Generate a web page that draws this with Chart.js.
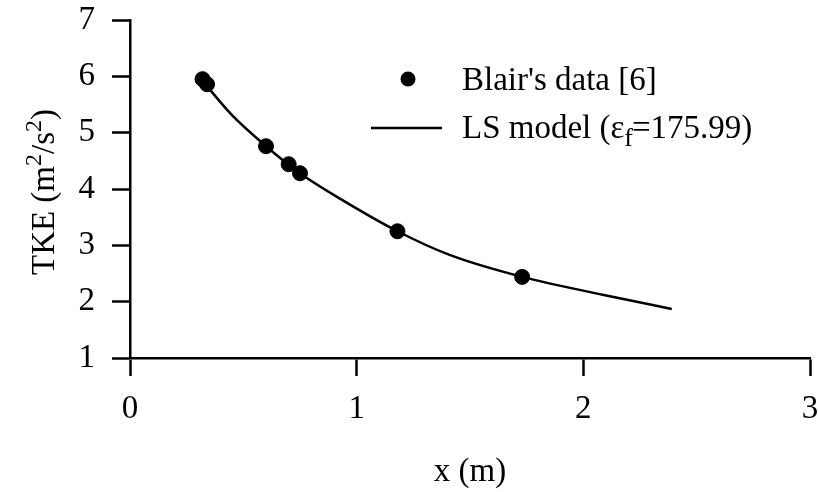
<!DOCTYPE html>
<html>
<head>
<meta charset="utf-8">
<script src="https://cdn.jsdelivr.net/npm/chart.js@4.4.1/dist/chart.umd.min.js"></script>
<style>
  html, body { margin: 0; padding: 0; background: #fff; }
  #wrap { width: 819px; height: 492px; }
</style>
</head>
<body>
<div id="wrap"><canvas id="c" width="819" height="492"></canvas></div>
<script>
// Measured data (Blair's data [6])
const dataX = [0.32, 0.34, 0.60, 0.70, 0.75, 1.18, 1.73];
const dataY = [5.95, 5.86, 4.76, 4.44, 4.28, 3.25, 2.44];
// LS model curve
const modelX = [0.33, 0.45, 0.60, 0.75, 0.93, 1.18, 1.41, 1.73, 2.09, 2.39];
const modelY = [5.87, 5.31, 4.76, 4.28, 3.82, 3.25, 2.83, 2.44, 2.12, 1.87];
const xTicks = [0, 1, 2, 3];
const yTicks = [1, 2, 3, 4, 5, 6, 7];
const legendParts = ["Blair's data [6]", "LS model (ε", "f", "=175.99)"];
const yTitleParts = [["TKE (m", false], ["2", true], ["/s", false], ["2", true], [")", false]];
const xTitle = 'x (m)';

const FONT = '"Liberation Serif", "Times New Roman", serif';

const textPlugin = {
  id: 'customText',
  afterDraw(chart) {
    const ctx = chart.ctx;
    const ds0 = chart.data.datasets[0];
    const ds1 = chart.data.datasets[1];
    ctx.save();
    ctx.fillStyle = '#000';
    ctx.textBaseline = 'middle';
    ctx.textAlign = 'left';
    // legend entry 1: dot
    ctx.fillStyle = ds0.backgroundColor;
    ctx.beginPath();
    ctx.arc(408, 79, ds0.pointRadius, 0, Math.PI * 2);
    ctx.fill();
    ctx.fillStyle = '#000';
    ctx.font = '33px ' + FONT;
    ctx.fillText(legendParts[0], 462, 81);
    // legend entry 2: line
    ctx.strokeStyle = ds1.borderColor;
    ctx.lineWidth = ds1.borderWidth;
    ctx.beginPath();
    ctx.moveTo(371, 128);
    ctx.lineTo(442, 128);
    ctx.stroke();
    let x = 462;
    ctx.fillText(legendParts[1], x, 129);
    x += ctx.measureText(legendParts[1]).width;
    ctx.font = '26px ' + FONT;
    ctx.fillText(legendParts[2], x, 139);
    x += ctx.measureText(legendParts[2]).width - 1;
    ctx.font = '33px ' + FONT;
    ctx.fillText(legendParts[3], x, 129);

    // y-axis title, rotated, with superscripts
    ctx.save();
    ctx.translate(42, 0);
    ctx.rotate(-Math.PI / 2);
    ctx.textBaseline = 'alphabetic';
    const big = '33px ' + FONT, small = '24px ' + FONT;
    let total = 0;
    for (const [t, sup] of yTitleParts) { ctx.font = sup ? small : big; total += ctx.measureText(t).width; }
    let cx = -192 - total / 2;
    const baseY = 12;
    for (const [t, sup] of yTitleParts) {
      ctx.font = sup ? small : big;
      ctx.fillText(t, cx, sup ? baseY - 13 : baseY);
      cx += ctx.measureText(t).width;
    }
    ctx.restore();
    ctx.restore();
  }
};

new Chart(document.getElementById('c'), {
  type: 'scatter',
  data: {
    datasets: [
      {
        label: legendParts[0],
        data: dataX.map((x, i) => ({ x: x, y: dataY[i] })),
        backgroundColor: '#000',
        borderColor: '#000',
        pointRadius: 7.5,
        pointHoverRadius: 7.5,
        showLine: false,
        order: 0
      },
      {
        label: 'LS model',
        data: modelX.map((x, i) => ({ x: x, y: modelY[i] })),
        borderColor: '#000',
        backgroundColor: '#000',
        borderWidth: 2.5,
        pointRadius: 0,
        showLine: true,
        cubicInterpolationMode: 'monotone',
        fill: false,
        order: 1
      }
    ]
  },
  options: {
    responsive: false,
    animation: false,
    devicePixelRatio: 1,
    layout: { padding: { left: 0, right: 9, top: 20, bottom: 0 } },
    plugins: {
      legend: { display: false },
      tooltip: { enabled: false }
    },
    scales: {
      x: {
        type: 'linear',
        min: 0, max: 3,
        afterBuildTicks: (s) => { s.ticks = xTicks.map(v => ({ value: v })); },
        afterFit: (s) => { s.height = 492 - 358; s.paddingLeft = 0; s.paddingRight = 0; },
        border: { display: true, color: '#000', width: 2.5 },
        grid: { display: true, drawOnChartArea: false, drawTicks: true, tickLength: 18, tickWidth: 2.5, tickColor: '#000' },
        ticks: { color: '#000', font: { family: FONT, size: 33 }, padding: 14, maxRotation: 0 },
        title: { display: true, text: xTitle, color: '#000', font: { family: FONT, size: 33 }, padding: { top: 0, bottom: 0 } }
      },
      y: {
        type: 'linear',
        min: 1, max: 7,
        afterBuildTicks: (s) => { s.ticks = yTicks.map(v => ({ value: v })); },
        afterFit: (s) => { s.width = 130; s.paddingTop = 0; s.paddingBottom = 0; },
        border: { display: true, color: '#000', width: 2.5 },
        grid: { display: true, drawOnChartArea: false, drawTicks: true, tickLength: 18, tickWidth: 2.5, tickColor: '#000' },
        ticks: { color: '#000', font: { family: FONT, size: 33 }, padding: 17 },
        title: { display: false }
      }
    }
  },
  plugins: [textPlugin]
});
</script>
</body>
</html>
